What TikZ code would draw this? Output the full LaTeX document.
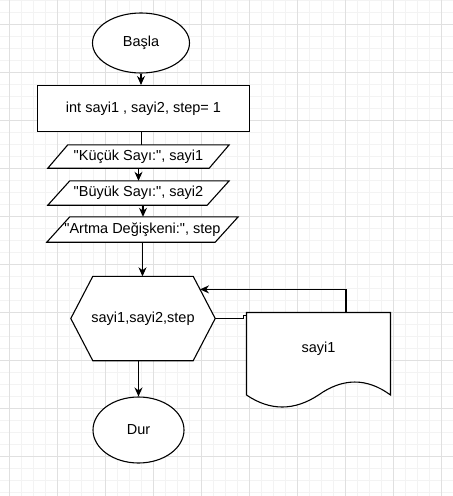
\documentclass[tikz,border=0pt]{standalone}
\usepackage{fontspec}
\setmainfont{Liberation Sans}
\usetikzlibrary{shapes.geometric,arrows.meta,calc}
\definecolor{gridminor}{HTML}{F3F3F3}
\definecolor{gridmajor}{HTML}{E0E0E0}

\begin{document}
\begin{tikzpicture}[x=1pt, y=-1pt,
    every node/.style={font=\fontsize{14.5}{16}\selectfont, inner sep=0pt},
    term/.style={ellipse, draw, fill=white, line width=1.1pt},
    procbox/.style={rectangle, draw, fill=white, line width=1.1pt},
    frame/.style={line width=1.1pt, fill=white},
    arr/.style={-{Stealth[length=9pt, width=8pt]}, line width=1.1pt}]

    % Background and grid
    \fill[white] (0, 0) rectangle (453, 496);
    \useasboundingbox (0, 0) rectangle (453, 496);
    \foreach \x in {-2.7, 9.3, ..., 453} \draw[gridminor, line width=0.8pt] (\x, 0) -- (\x, 496);
    \foreach \y in {0.3, 12.3, ..., 496} \draw[gridminor, line width=0.8pt] (0, \y) -- (453, \y);
    \foreach \x in {9.3, 57.3, ..., 453} \draw[gridmajor, line width=0.8pt] (\x, 0) -- (\x, 496);
    \foreach \y in {24.3, 72.3, ..., 496} \draw[gridmajor, line width=0.8pt] (0, \y) -- (453, \y);

    % Start and initialisation
    \node[term, minimum width=97pt, minimum height=60pt] (start) at (141, 43) {Başla};
    \node[procbox, minimum width=212pt, minimum height=46pt] (init) at (143.5, 108.5) {int sayi1 , sayi2, step= 1};

    % Input parallelograms
    \node[minimum width=181pt, minimum height=23pt] (inp1) at (138.5, 156.5) {};
    \draw[frame] ([xshift=20pt]inp1.north west) -- (inp1.north east) -- ([xshift=-20pt]inp1.south east) -- (inp1.south west) -- cycle;
    \node (inp1text) at (inp1) {\makebox[0pt]{\textquotedbl Küçük Sayı:\textquotedbl, sayi1}};

    \node[minimum width=181pt, minimum height=24pt] (inp2) at (138.5, 193) {};
    \draw[frame] ([xshift=22pt]inp2.north west) -- (inp2.north east) -- ([xshift=-22pt]inp2.south east) -- (inp2.south west) -- cycle;
    \node (inp2text) at (inp2) {\makebox[0pt]{\textquotedbl Büyük Sayı:\textquotedbl, sayi2}};

    \node[minimum width=191pt, minimum height=25pt] (inp3) at (142.5, 229.5) {};
    \draw[frame] ([xshift=23pt]inp3.north west) -- (inp3.north east) -- ([xshift=-23pt]inp3.south east) -- (inp3.south west) -- cycle;
    \node (inp3text) at (inp3) {\makebox[0pt]{\textquotedbl Artma Değişkeni:\textquotedbl, step}};

    % Loop hexagon
    \node[minimum width=144pt, minimum height=84pt] (loop) at (143, 318.5) {};
    \draw[frame] (loop.west) -- ([xshift=22pt]loop.north west) -- ([xshift=-22pt]loop.north east)
        -- (loop.east) -- ([xshift=-22pt]loop.south east) -- ([xshift=22pt]loop.south west) -- cycle;
    \node (looptext) at (loop) {sayi1,sayi2,step};
    \coordinate (loopin) at ($([xshift=-22pt]loop.north east)!0.31!(loop.east)$);

    % Output document
    \node[minimum width=145pt, minimum height=72pt, anchor=north] (doc) at (318.5, 312.5) {};
    \draw[frame] (246.5, 312.5) -- (390.5, 312.5) -- (390.5, 395)
        .. controls (367, 377.7) and (342.8, 377.7) .. (318.5, 395)
        .. controls (294.2, 411) and (270, 411) .. (246.5, 395) -- cycle;
    \node (doctext) at (doc) {sayi1};

    % End
    \node[term, minimum width=91pt, minimum height=66pt] (stop) at (138.5, 430) {Dur};

    % Connectors
    \draw[arr] (start.south) -- (start.south |- init.north);
    \draw[line width=1.1pt] (141.5, 0 |- init.south) -- (141.5, 0 |- inp1.north);
    \draw[arr] (inp1.south) -- (inp1.south |- inp2.north);
    \draw[arr] ([xshift=4.5pt]inp2.south) -- ([xshift=4.5pt]inp2.south |- inp3.north);
    \draw[arr] (inp3.south) -- (inp3.south |- loop.north);
    \draw[line width=1.1pt] (loop.east) -- ++(28, 0) |- ([yshift=-3pt]doc.north west);
    \draw[arr] ([xshift=27.5pt]doc.north) |- (loopin);
    \draw[arr] (loop.south -| stop.north) -- (stop.north);

\end{tikzpicture}
\end{document}
